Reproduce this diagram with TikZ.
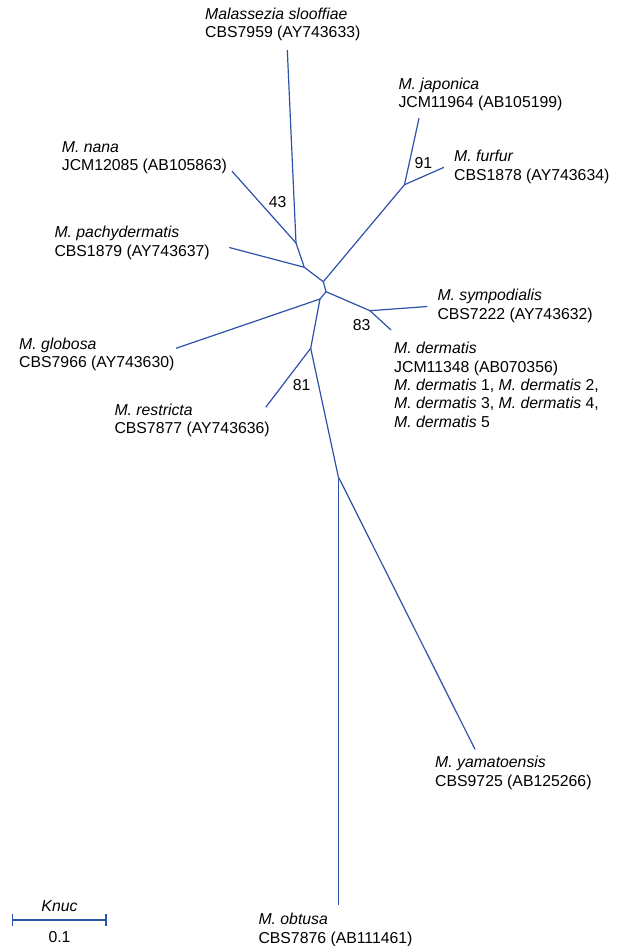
\documentclass[tikz,border=0pt]{standalone}
\usepackage{fontspec}
\setmainfont{Liberation Sans}
\usepackage{tikz}
\usetikzlibrary{arrows,positioning,calc}

\definecolor{treeblue}{RGB}{45,82,170}

\begin{document}
\begin{tikzpicture}[x=1pt,y=-1pt,
  branch/.style={draw=treeblue,line width=1.2pt},
  taxon/.style={anchor=north west,inner sep=0pt,align=left,font=\fontsize{15.8}{18.4}\selectfont},
  boot/.style={inner sep=0pt,font=\fontsize{15.8}{18.4}\selectfont}]
\useasboundingbox (0,0) rectangle (622,946);

% Inner nodes
\coordinate (nA) at (296,243);
\coordinate (nB) at (304.3,267.3);
\coordinate (nC) at (323.3,281.7);
\coordinate (nD) at (326,291.7);
\coordinate (nE) at (320,299);
\coordinate (n91) at (404.5,184.7);
\coordinate (n83) at (370,310.7);
\coordinate (n81) at (310.7,348.3);
\coordinate (nY) at (338.3,476.7);

% Leaves
\coordinate (tSlo) at (287.3,50);
\coordinate (tNana) at (232,171.2);
\coordinate (tPachy) at (229.3,247.5);
\coordinate (tJap) at (419,118.3);
\coordinate (tFurfur) at (444,167.3);
\coordinate (tSymp) at (427.3,306.5);
\coordinate (tDerm) at (391,330);
\coordinate (tGlob) at (176,348.3);
\coordinate (tRestr) at (265.7,407.3);
\coordinate (tObt) at (338.3,905);
\coordinate (tYama) at (475,749.3);

% Branches
\foreach \a/\b in {nA/tSlo, nA/tNana, nB/nA, nB/tPachy, nC/nB, nC/n91,
    n91/tJap, n91/tFurfur, nD/nC, nD/n83, n83/tSymp, n83/tDerm,
    nE/nD, nE/tGlob, nE/n81, n81/tRestr, n81/nY, nY/tObt, nY/tYama}
  \draw[branch] (\a) -- (\b);

% Taxon labels
\node[taxon] (lSlo) at (205,7.6) {\textit{Malassezia slooffiae}\\CBS7959 (AY743633)};
\node[taxon] (lJap) at (398.3,77.6) {\textit{M. japonica}\\JCM11964 (AB105199)};
\node[taxon] (lNana) at (61.7,141) {\textit{M. nana}\\JCM12085 (AB105863)};
\node[taxon] (lFurfur) at (454,150.3) {\textit{M. furfur}\\CBS1878 (AY743634)};
\node[taxon] (lPachy) at (54.3,226) {\textit{M. pachydermatis}\\CBS1879 (AY743637)};
\node[taxon] (lSymp) at (437.3,289.3) {\textit{M. sympodialis}\\CBS7222 (AY743632)};
\node[taxon] (lGlob) at (19,337.6) {\textit{M. globosa}\\CBS7966 (AY743630)};
\node[taxon] (lDerm) at (394,342) {\textit{M. dermatis}\\JCM11348 (AB070356)\\
  \textit{M. dermatis} 1, \textit{M. dermatis} 2,\\
  \textit{M. dermatis} 3, \textit{M. dermatis} 4,\\
  \textit{M. dermatis} 5};
\node[taxon] (lRestr) at (114.3,403.6) {\textit{M. restricta}\\CBS7877 (AY743636)};
\node[taxon] (lYama) at (435,756) {\textit{M. yamatoensis}\\CBS9725 (AB125266)};
\node[taxon] (lObt) at (258.3,913.3) {\textit{M. obtusa}\\CBS7876 (AB111461)};

% Bootstrap values
\node[boot] (b43) at (277.7,201.7) {43};
\node[boot] (b91) at (423.3,163.3) {91};
\node[boot] (b83) at (361.7,325) {83};
\node[boot] (b81) at (301.7,385) {81};

% Scale bar
\coordinate (sbL) at (12.7,920);
\coordinate (sbR) at (106,920);
\draw[branch] (sbL) -- (sbR);
\draw[branch] ($(sbL)+(0,-6)$) -- ($(sbL)+(0,6)$);
\draw[branch] ($(sbR)+(0,-6)$) -- ($(sbR)+(0,6)$);
\node[boot] (knuc) at (59.5,905.7) {\textit{Knuc}};
\node[boot] (sbVal) at (59.5,937.5) {0.1};
\end{tikzpicture}
\end{document}
